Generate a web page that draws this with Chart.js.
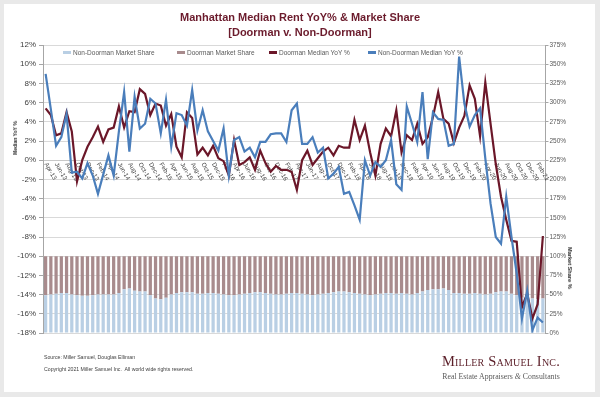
<!DOCTYPE html>
<html><head><meta charset="utf-8">
<script src="https://cdn.jsdelivr.net/npm/chart.js@4.4.1/dist/chart.umd.min.js"></script>
<style>
html,body{margin:0;padding:0;width:600px;height:397px;overflow:hidden;background:#e9e9e9;font-family:"Liberation Sans",Arial,sans-serif;}
#card{position:absolute;left:4px;top:4px;width:591px;height:388px;background:#fff;}
#c{position:absolute;left:0;top:0;}
.t{position:absolute;white-space:nowrap;}
.leg{position:absolute;top:50px;height:6px;line-height:6px;font-size:6.5px;color:#595959;white-space:nowrap;}
.leg span.m{display:inline-block;width:8px;height:3px;vertical-align:middle;margin-right:2px;position:relative;top:-0.5px;}
</style></head><body>
<div id="card"></div>
<canvas id="c" width="600" height="397"></canvas>
<div class="t" style="left:15px;top:138px;transform:translate(-50%,-50%) rotate(-90deg);font-weight:bold;font-size:5px;color:#262626;">Median YoY %</div>
<div class="t" style="left:570px;top:268px;transform:translate(-50%,-50%) rotate(90deg);font-weight:bold;font-size:5.6px;color:#262626;">Market Share %</div>
<div class="t" style="left:44px;top:354px;line-height:6px;font-size:5.2px;color:#404040;">Source: Miller Samuel, Douglas Elliman</div>
<div class="t" style="left:44px;top:366px;line-height:6px;font-size:5.2px;color:#404040;">Copyright 2021 Miller Samuel Inc.&nbsp; All world wide rights reserved.</div>
<div class="t" style="left:501px;top:361px;transform:translate(-50%,-50%);font-family:'Liberation Serif','DejaVu Serif',serif;font-variant:small-caps;font-size:14.5px;line-height:16px;color:#5b1e28;letter-spacing:0.2px;">Miller Samuel Inc.</div>
<div class="t" style="left:501px;top:376px;transform:translate(-50%,-50%);font-family:'Liberation Serif','DejaVu Serif',serif;font-size:7.8px;line-height:9px;color:#595959;">Real Estate Appraisers <i>&amp;</i> Consultants</div>
<div id="legend"></div>
<script>
const months = ['Apr-13','May-13','Jun-13','Jul-13','Aug-13','Sep-13','Oct-13','Nov-13','Dec-13',
'Jan-14','Feb-14','Mar-14','Apr-14','May-14','Jun-14','Jul-14','Aug-14','Sep-14','Oct-14','Nov-14','Dec-14',
'Jan-15','Feb-15','Mar-15','Apr-15','May-15','Jun-15','Jul-15','Aug-15','Sep-15','Oct-15','Nov-15','Dec-15',
'Jan-16','Feb-16','Mar-16','Apr-16','May-16','Jun-16','Jul-16','Aug-16','Sep-16','Oct-16','Nov-16','Dec-16',
'Jan-17','Feb-17','Mar-17','Apr-17','May-17','Jun-17','Jul-17','Aug-17','Sep-17','Oct-17','Nov-17','Dec-17',
'Jan-18','Feb-18','Mar-18','Apr-18','May-18','Jun-18','Jul-18','Aug-18','Sep-18','Oct-18','Nov-18','Dec-18',
'Jan-19','Feb-19','Mar-19','Apr-19','May-19','Jun-19','Jul-19','Aug-19','Sep-19','Oct-19','Nov-19','Dec-19',
'Jan-20','Feb-20','Mar-20','Apr-20','May-20','Jun-20','Jul-20','Aug-20','Sep-20','Oct-20','Nov-20','Dec-20',
'Jan-21','Feb-21','Mar-21'];

const nonDoormanShare = [49,50,51,52,52,50,49,48.5,48.5,49, 50,50,50,50,52,57,58,55,54,54,
 49,45,44,46,50,52,53,53,53,51, 51,52,52,51,50,49,49,50,51,52,
 53,53,52,51,50,50,51,52,52,51, 50,49,50,51,52,53,54,54,53,52,
 51,50,49,50,51,52,52,51,52,51, 50,52,54,56,57,57,58,56,52,52,
 51,51,52,51,50,51,53,54,54,51, 49,46,45,45,44,45];

const doormanShare = [51,50,49,48,48,50,51,51.5,51.5,51, 50,50,50,50,48,43,42,45,46,46,
 51,55,56,54,50,48,47,47,47,49, 49,48,48,49,50,51,51,50,49,48,
 47,47,48,49,50,50,49,48,48,49, 50,51,50,49,48,47,46,46,47,48,
 49,50,51,50,49,48,48,49,48,49, 50,48,46,44,43,43,42,44,48,48,
 49,49,48,49,50,49,47,46,46,49, 51,54,55,55,56,55];

const doormanYoY = [5.4,4.7,2.6,2.8,5.0,3.0,-2.2,0.0,1.4,2.4,
 3.5,1.9,3.2,3.4,5.6,3.4,5.1,5.0,7.4,6.9,
 4.7,5.9,5.7,3.6,4.8,1.4,0.3,5.0,4.4,0.6,
 1.3,0.5,1.5,0.2,-0.1,-1.6,2.1,-0.5,-0.2,0.3,
 -1.0,1.0,-0.3,-1.2,-0.6,-1.0,-1.0,-1.2,-3.1,0.0,
 1.0,-0.5,0.2,0.9,1.3,0.5,1.5,1.3,1.3,4.2,
 2.1,3.6,0.8,-1.6,1.7,3.3,2.5,5.2,0.8,2.6,
 2.1,3.8,1.7,2.4,4.5,7.1,4.3,3.8,1.8,3.4,
 4.6,7.8,6.4,2.5,8.1,3.8,-0.4,-3.8,-6.2,-8.4,
 -8.5,-15.3,-13.9,-16.5,-15.0,-7.9];

const nonDoormanYoY = [9.0,5.3,1.5,2.4,4.8,-1.3,-1.2,-1.9,-0.3,-1.6,
 -3.5,-1.5,0.5,-1.6,3.0,7.1,0.9,6.6,3.3,3.8,
 6.4,5.9,2.8,6.3,1.4,4.9,4.7,3.6,7.3,3.1,
 5.2,3.0,2.0,1.0,3.3,-1.6,2.1,2.4,0.9,1.3,
 0.3,1.9,1.9,2.7,2.8,2.8,1.9,5.2,5.9,1.7,
 1.7,2.4,0.8,1.3,-1.9,-1.4,-0.7,-3.5,-3.3,-4.7,
 -6.2,0.0,-1.6,-0.2,-0.7,0.0,2.1,-2.5,-3.1,5.6,
 3.8,1.9,7.1,0.1,5.0,4.3,4.2,1.5,1.7,10.8,
 5.9,3.5,4.7,5.4,0.2,-4.5,-8.0,-8.7,-3.8,-8.0,
 -11.8,-16.5,-13.6,-17.7,-16.4,-16.9];

const titleLines = ['Manhattan Median Rent YoY% & Market Share','[Doorman v. Non-Doorman]'];
const legendLefts = [63,177,269,368];

const xLabelPlugin = {
  id: 'xLabels',
  beforeDatasetsDraw(chart) {
    const {ctx, scales:{x, y}} = chart;
    const y0 = y.getPixelForValue(0);
    ctx.save();
    ctx.font = '6.2px "Liberation Sans", Arial, sans-serif';
    ctx.fillStyle = '#404040';
    ctx.textAlign = 'left';
    ctx.textBaseline = 'middle';
    months.forEach((m, i) => {
      if (i % 2) return;
      const px = x.getPixelForValue(i);
      ctx.save();
      ctx.translate(px, y0 + 3);
      ctx.rotate(60 * Math.PI / 180);
      ctx.fillText(m, 0, 0);
      ctx.restore();
    });
    ctx.restore();
  }
};

const chart = new Chart(document.getElementById('c'), {
  data: {
    labels: months,
    datasets: [
      {type:'bar', label:'Non-Doorman Market Share', data: nonDoormanShare, yAxisID:'y2', backgroundColor:'#b9cfe4', order:2, barPercentage:0.62, categoryPercentage:1},
      {type:'bar', label:'Doorman Market Share', data: doormanShare, yAxisID:'y2', backgroundColor:'#a88b8d', order:2, barPercentage:0.62, categoryPercentage:1},
      {type:'line', label:'Doorman Median YoY %', data: doormanYoY, yAxisID:'y', borderColor:'#6b1729', backgroundColor:'#6b1729', borderWidth:2.2, pointRadius:0, tension:0, order:1},
      {type:'line', label:'Non-Doorman Median YoY %', data: nonDoormanYoY, yAxisID:'y', borderColor:'#4a7ebb', backgroundColor:'#4a7ebb', borderWidth:2.2, pointRadius:0, tension:0, order:0}
    ]
  },
  options: {
    responsive:false, animation:false, devicePixelRatio:1,
    layout:{padding:{top:0,bottom:64,left:0,right:0}},
    plugins:{
      legend:{display:false},
      tooltip:{enabled:false},
      title:{display:true, text:titleLines, color:'#6b1b2c',
        font:{family:'"Liberation Sans", Arial, sans-serif', size:11, weight:'bold', lineHeight:'15px'},
        padding:{top:10.5,bottom:4.5}}
    },
    scales:{
      x:{type:'category', position:{y:0}, offset:true, stacked:true,
         grid:{display:false}, ticks:{display:false},
         border:{display:true, color:'#c8c8c8', width:1}},
      y:{position:'left', min:-18, max:12,
         ticks:{stepSize:2, callback:v=>v+'%', color:'#404040', padding:3,
                font:{family:'"Liberation Sans", Arial, sans-serif', size:8}},
         grid:{color:'#d9d9d9', tickColor:'#a6a6a6', tickLength:4},
         border:{color:'#a6a6a6'},
         afterFit(s){ s.width = 43; }},
      y2:{position:'right', min:0, max:375, stacked:true,
         ticks:{stepSize:25, callback:v=>v+'%', color:'#595959', padding:1,
                font:{family:'"Liberation Sans", Arial, sans-serif', size:6.5}},
         grid:{drawOnChartArea:false, tickColor:'#a6a6a6', tickLength:3},
         border:{color:'#a6a6a6'},
         afterFit(s){ s.width = 54.5; }}
    }
  },
  plugins:[xLabelPlugin]
});

// legend built from the chart's datasets
const legEl = document.getElementById('legend');
chart.data.datasets.forEach((ds, i) => {
  const d = document.createElement('div');
  d.className = 'leg';
  d.style.left = legendLefts[i] + 'px';
  const m = document.createElement('span');
  m.className = 'm';
  m.style.background = ds.type === 'bar' ? ds.backgroundColor : ds.borderColor;
  d.appendChild(m);
  d.appendChild(document.createTextNode(ds.label));
  legEl.appendChild(d);
});
</script>
</body></html>
